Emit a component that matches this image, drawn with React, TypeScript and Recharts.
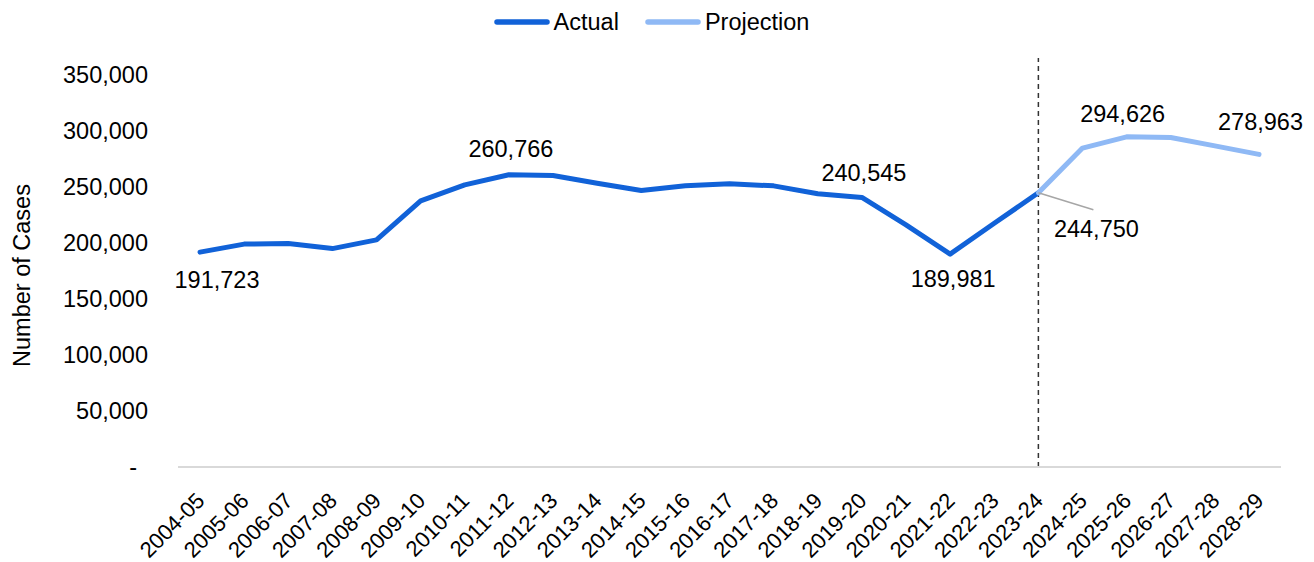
import React from 'react';
import { LineChart, Line, XAxis, YAxis, Legend, ReferenceLine, LabelList } from 'recharts';

const categories = ['2004-05','2005-06','2006-07','2007-08','2008-09','2009-10','2010-11','2011-12','2012-13','2013-14','2014-15','2015-16','2016-17','2017-18','2018-19','2019-20','2020-21','2021-22','2022-23','2023-24','2024-25','2025-26','2026-27','2027-28','2028-29'];
const actualValues: (number | null)[] = [191723,198900,199400,194900,202700,237500,251800,260766,260100,253300,246700,250900,252700,250900,243800,240545,216100,189981,217500,244750,null,null,null,null,null];
const projectionValues: (number | null)[] = [null,null,null,null,null,null,null,null,null,null,null,null,null,null,null,null,null,null,null,244750,284600,294626,294000,286600,278963];
const yTicks = [0,50000,100000,150000,200000,250000,300000,350000];
const labelledActual = [0, 7, 15, 17, 19];
const labelledProjection = [21, 24];
const dividerCategory = '2023-24';

const ACTUAL = '#1162D8';
const PROJ = '#8FB9F5';
const FONT = '"Liberation Sans", Arial, sans-serif';
const FS = 23.5;
const XFS = 22;

const data = categories.map((c, i) => ({ cat: c, actual: actualValues[i], projection: projectionValues[i] }));

// label placement (offsets relative to point)
const labelOffsets: Record<number, { dx: number; dy: number; leader?: boolean }> = {
  0: { dx: 17, dy: 28 },
  7: { dx: 2, dy: -26 },
  15: { dx: 2, dy: -24 },
  17: { dx: 3, dy: 25 },
  19: { dx: 58, dy: 36, leader: true },
  21: { dx: -4, dy: -23 },
  24: { dx: 1.5, dy: -32 },
};

const makeLabel = (allowed: number[]) => (props: any) => {
  const { x, y, value, index } = props;
  if (!allowed.includes(index) || value == null) return null;
  const o = labelOffsets[index];
  return (
    <g>
      {o.leader && <line x1={x} y1={y} x2={x + 55} y2={y + 17} stroke="#A6A6A6" strokeWidth={1.5} />}
      <text x={x + o.dx} y={y + o.dy} textAnchor="middle" dominantBaseline="central" fontFamily={FONT} fontSize={FS} fill="#000">
        {Number(value).toLocaleString('en-US')}
      </text>
    </g>
  );
};

const XTick = (props: any) => {
  const { x, y, payload } = props;
  const ax = x + 6;
  const ay = y + 27;
  return (
    <text x={ax} y={ay} textAnchor="end" fontFamily={FONT} fontSize={XFS} fill="#000" transform={`rotate(-45, ${ax}, ${ay})`}>
      {payload.value}
    </text>
  );
};

const YTick = (props: any) => {
  const { x, y, payload } = props;
  const v = payload.value;
  return (
    <text x={v === 0 ? x - 11 : x} y={y} dy="0.355em" textAnchor="end" fontFamily={FONT} fontSize={FS} fill="#000">
      {v === 0 ? '-' : Number(v).toLocaleString('en-US')}
    </text>
  );
};

const YLabel = (props: any) => {
  const vb = props.viewBox || { x: 0, y: 58, width: 178, height: 409 };
  const cx = 22;
  const cy = vb.y + vb.height / 2 + 13;
  return (
    <text x={cx} y={cy} textAnchor="middle" dominantBaseline="central" fontFamily={FONT} fontSize={FS} fill="#000" transform={`rotate(-90, ${cx}, ${cy})`}>
      Number of Cases
    </text>
  );
};

const LegendContent = () => {
  const items = [
    { name: 'Actual', color: ACTUAL },
    { name: 'Projection', color: PROJ },
  ];
  return (
    <div style={{ height: 58, boxSizing: 'border-box', display: 'flex', justifyContent: 'center', alignItems: 'flex-start', paddingTop: 8, paddingRight: 11 }}>
      {items.map((it, i) => (
        <div key={it.name} style={{ display: 'flex', alignItems: 'center', height: 28, marginLeft: i === 0 ? 0 : 26 }}>
          <svg width={56} height={10}>
            <line x1={3} y1={5} x2={53} y2={5} stroke={it.color} strokeWidth={5.5} strokeLinecap="round" />
          </svg>
          <span style={{ fontFamily: FONT, fontSize: FS, color: '#000', marginLeft: 4, lineHeight: '28px' }}>{it.name}</span>
        </div>
      ))}
    </div>
  );
};

export default function App() {
  return (
    <div style={{ position: 'absolute', left: 0, top: 0, width: 1314, height: 562, background: '#fff' }}>
      <LineChart width={1314} height={562} data={data} margin={{ top: 0, right: 33, bottom: 0, left: 0 }}>
        <Legend verticalAlign="top" content={<LegendContent />} wrapperStyle={{ top: 0, left: 0, width: 1314 }} />
        <XAxis
          dataKey="cat"
          interval={0}
          height={95}
          padding={{ left: 22, right: 22 }}
          tickLine={false}
          axisLine={{ stroke: '#D9D9D9', strokeWidth: 2 }}
          tick={<XTick />}
        />
        <YAxis
          width={178}
          domain={[0, 365000]}
          ticks={yTicks}
          axisLine={false}
          tickLine={false}
          tickSize={0}
          tickMargin={30}
          tick={<YTick />}
          label={<YLabel />}
        />
        <ReferenceLine x={dividerCategory} stroke="#333" strokeWidth={1.5} strokeDasharray="5 4" />
        <Line dataKey="actual" stroke={ACTUAL} strokeWidth={5} dot={false} isAnimationActive={false} strokeLinecap="round" strokeLinejoin="round" connectNulls={false}>
          <LabelList dataKey="actual" content={makeLabel(labelledActual)} />
        </Line>
        <Line dataKey="projection" stroke={PROJ} strokeWidth={5} dot={false} isAnimationActive={false} strokeLinecap="round" strokeLinejoin="round" connectNulls={false}>
          <LabelList dataKey="projection" content={makeLabel(labelledProjection)} />
        </Line>
      </LineChart>
    </div>
  );
}
